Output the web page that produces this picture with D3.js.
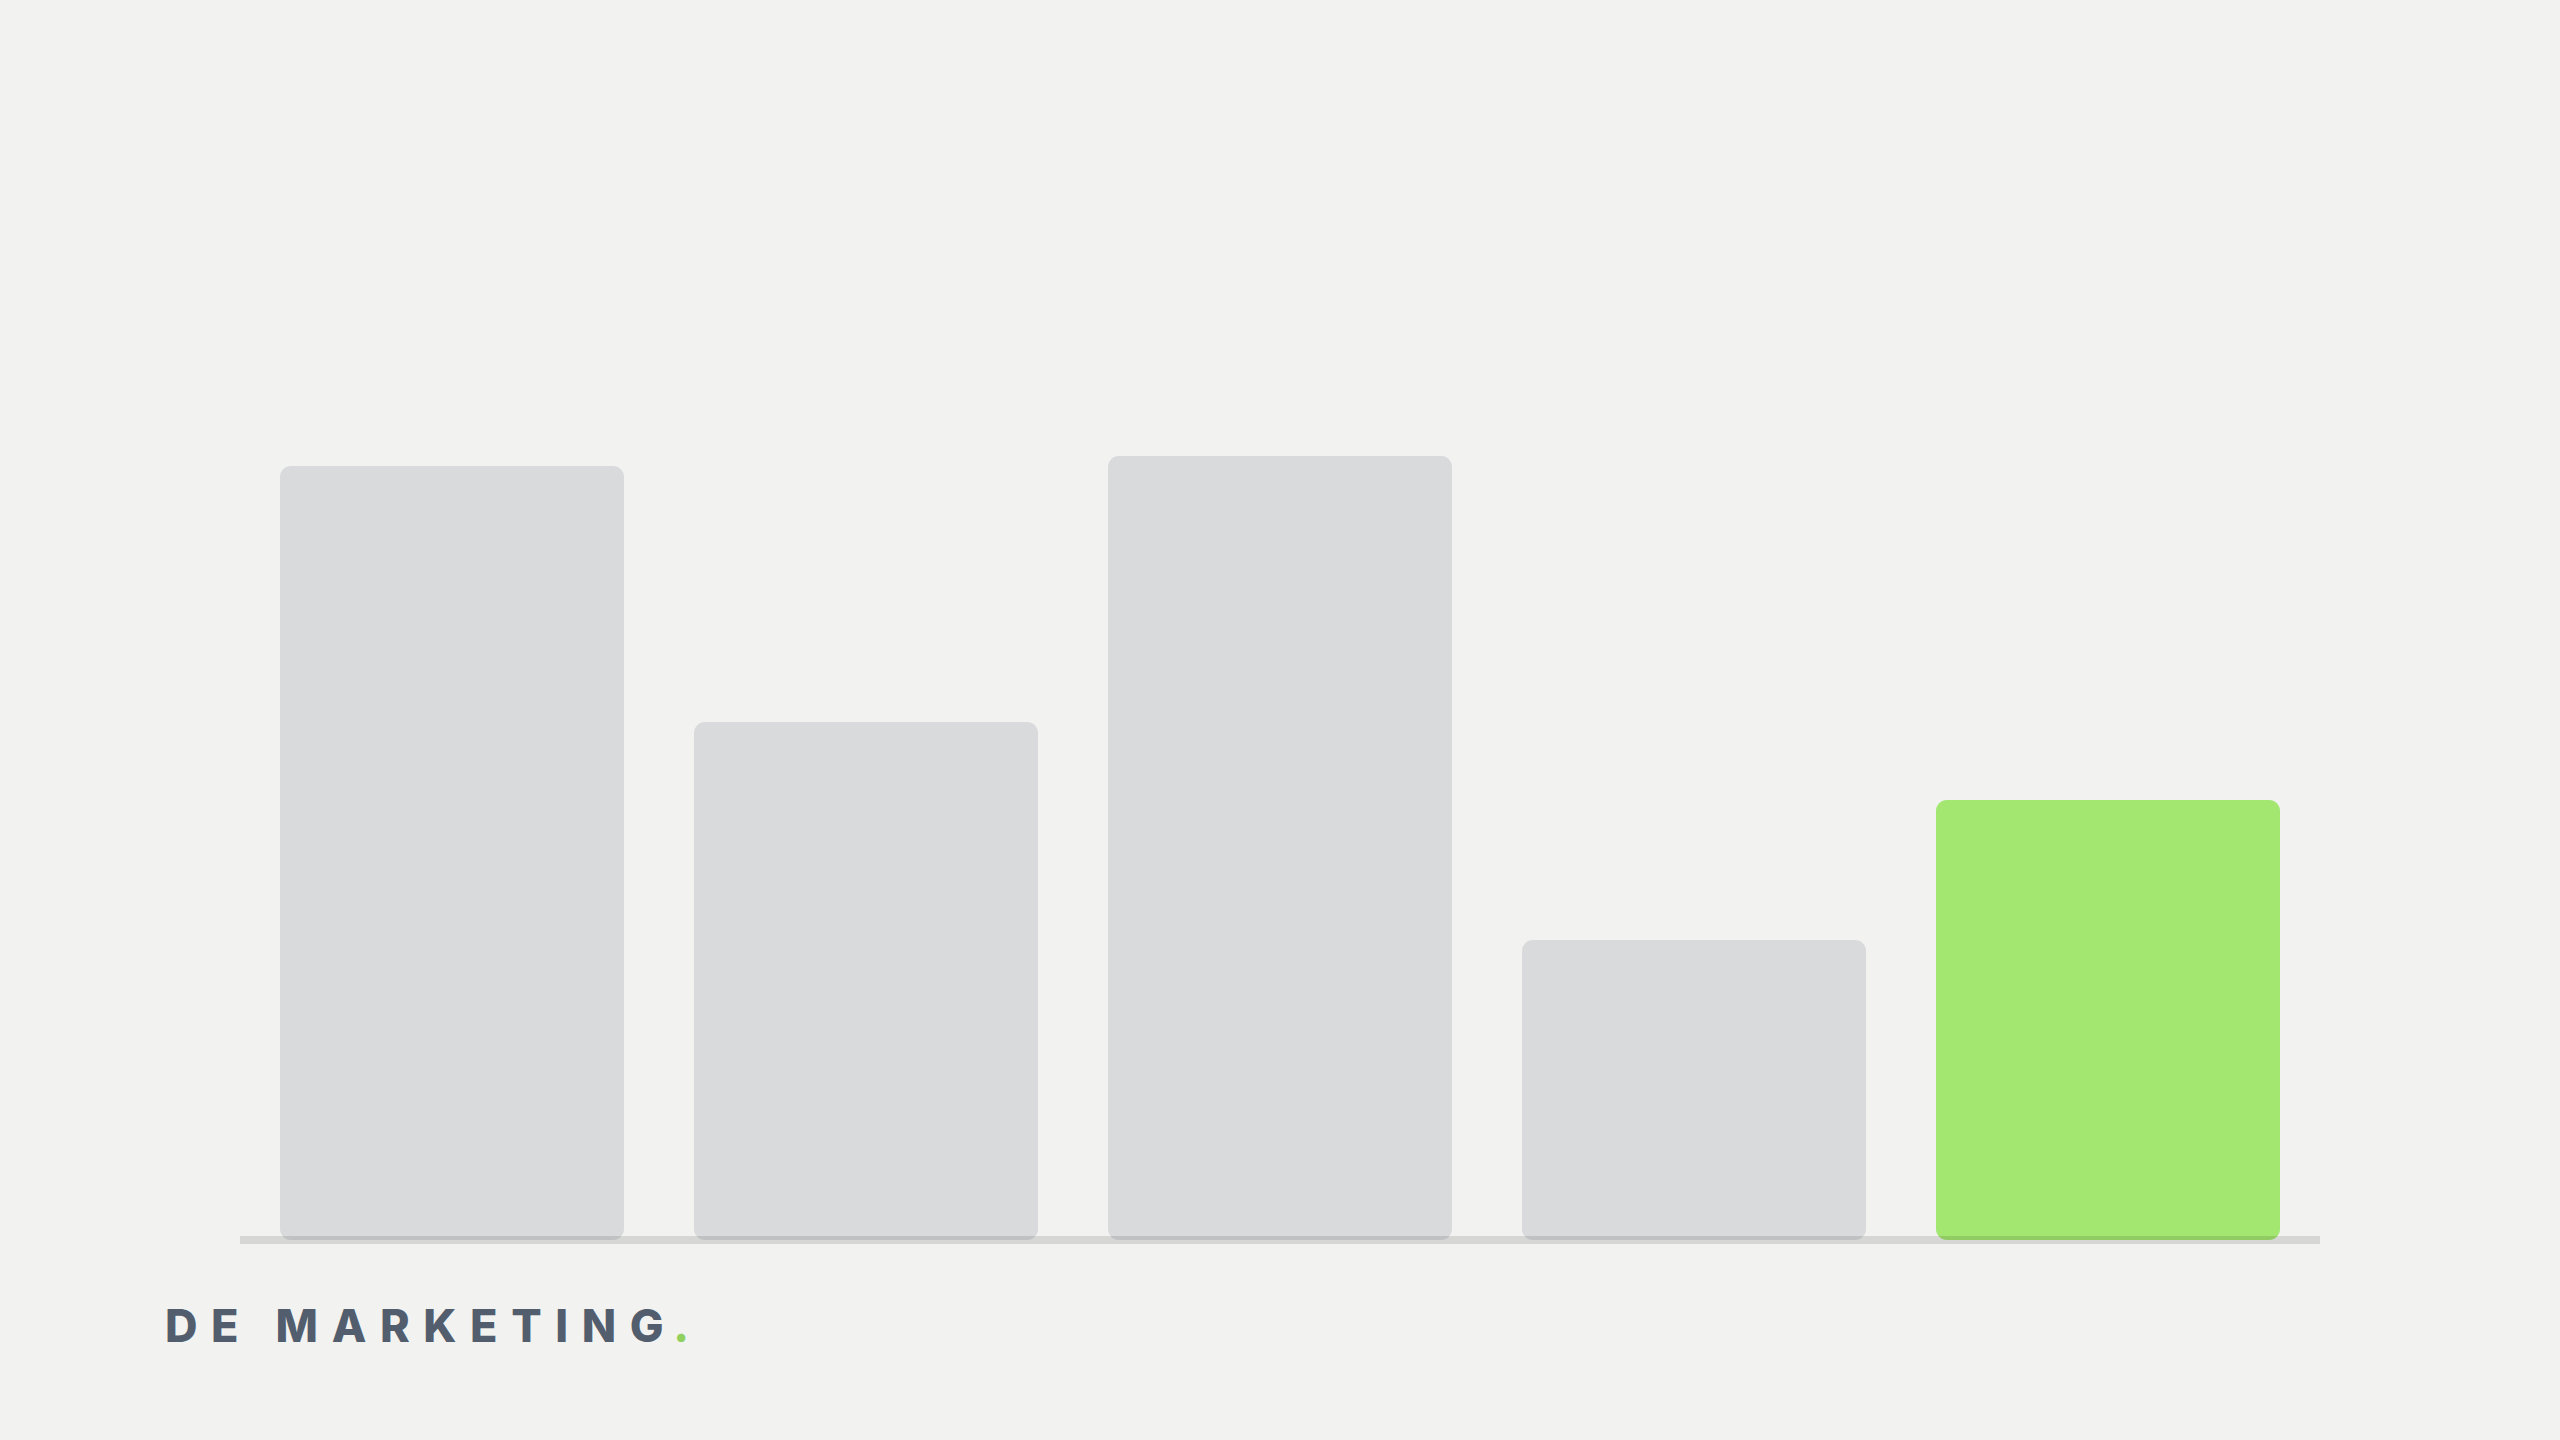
<!DOCTYPE html>
<html>
<head>
<meta charset="utf-8">
<script src="https://cdn.jsdelivr.net/npm/d3@7"></script>
<style>
  html, body { margin: 0; padding: 0; background: #f2f2f0; }
  svg { display: block; }
</style>
</head>
<body>
<svg id="chart" width="2560" height="1440"></svg>
<script>
const categories = ["A", "B", "C", "D", "E"];
const values = [96.75, 64.75, 98, 37.5, 55];
const highlight = ["E"];
const brandWord1 = "DE";
const brandWord2 = "MARKETING";

const W = 2560, H = 1440;
const svg = d3.select("#chart");
svg.append("rect").attr("width", W).attr("height", H).attr("fill", "#f2f2f0");

const x = d3.scaleBand()
  .domain(categories)
  .range([240, 2320])
  .paddingInner(70 / 414)
  .paddingOuter(40 / 414);

const y = d3.scaleLinear().domain([0, 100]).range([1240, 440]);

svg.append("g")
  .selectAll("rect")
  .data(categories)
  .join("rect")
  .attr("x", d => x(d))
  .attr("width", x.bandwidth())
  .attr("y", (d, i) => y(values[i]))
  .attr("height", (d, i) => y(0) - y(values[i]))
  .attr("rx", 11)
  .attr("ry", 11)
  .attr("fill", d => highlight.includes(d) ? "#a3e770" : "#d9dadb");

// baseline
svg.append("rect")
  .attr("x", x.range()[0])
  .attr("width", x.range()[1] - x.range()[0])
  .attr("y", y(0) - 4)
  .attr("height", 8)
  .attr("fill", "#000")
  .attr("fill-opacity", 0.115);

// brand text
const t = svg.append("text")
  .attr("x", 165)
  .attr("y", 1342)
  .attr("font-family", "Inter, 'Noto Sans', sans-serif")
  .attr("font-weight", 800)
  .attr("font-size", 45)
  .attr("letter-spacing", 13.6)
  .attr("fill", "#525e6e");
t.append("tspan").text(brandWord1 + " " + brandWord2);
t.append("tspan").attr("fill", "#8fd05e").attr("dx", -4).text(".");
</script>
</body>
</html>
